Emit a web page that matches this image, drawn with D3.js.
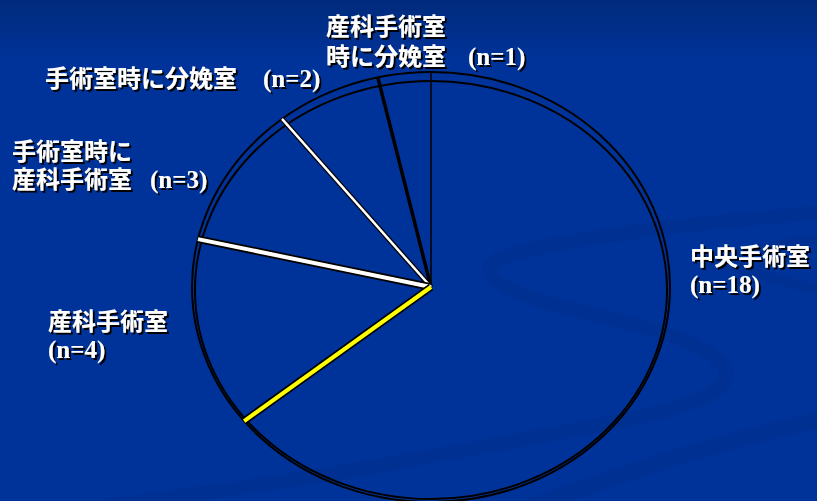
<!DOCTYPE html>
<html>
<head>
<meta charset="utf-8">
<script src="https://cdn.jsdelivr.net/npm/d3@7"></script>
<style>
  html, body { margin: 0; padding: 0; background: #003399; }
  svg { display: block; }
  .lbl { font-family: "Liberation Serif", "Noto Sans CJK JP", serif; font-size: 24px; font-weight: bold; }
  .lbl .n { font-size: 25px; }
</style>
</head>
<body>
<div id="vis"></div>
<script>
// slices, counter-clockwise from 12 o'clock
var categories = ['産科手術室時に分娩室', '手術室時に分娩室', '手術室時に産科手術室', '産科手術室', '中央手術室'];
var counts = [1, 2, 3, 4, 18];
// label text lines (the last line gets the "(n=..)" part appended)
var labelLines = [
    ['産科手術室', '時に分娩室'],
    ['手術室時に分娩室'],
    ['手術室時に', '産科手術室'],
    ['産科手術室', ''],
    ['中央手術室', '']
];

var width = 817, height = 501;
var cx = 431, cy = 287, rx = 239, ry = 215;

var svg = d3.select('#vis')
            .append('svg')
            .attr('width', width)
            .attr('height', height);

// background
var defs = svg.append('defs');
var grad = defs.append('linearGradient')
               .attr('id', 'bg')
               .attr('x1', 0).attr('y1', 0).attr('x2', 0).attr('y2', 1);
grad.append('stop').attr('offset', '0%').attr('stop-color', '#002a7c');
grad.append('stop').attr('offset', '12%').attr('stop-color', '#003399');
grad.append('stop').attr('offset', '100%').attr('stop-color', '#003399');

var shadow = defs.append('filter')
                 .attr('id', 'shadow')
                 .attr('x', '-10%').attr('y', '-20%')
                 .attr('width', '130%').attr('height', '150%');
shadow.append('feDropShadow')
      .attr('dx', 2).attr('dy', 2)
      .attr('stdDeviation', 0.3)
      .attr('flood-color', '#000')
      .attr('flood-opacity', 1);

svg.append('rect').attr('width', width).attr('height', height).attr('fill', 'url(#bg)');

// faint swooshes
var swoosh = svg.append('g')
                .attr('fill', 'none')
                .attr('stroke', '#002c88')
                .attr('stroke-opacity', 0.45)
                .attr('stroke-linecap', 'round');
swoosh.append('path')
      .attr('d', 'M830,212 C700,222 560,238 500,258 C465,278 520,298 600,316 C680,334 735,355 725,382 C700,412 600,425 420,458 C300,482 150,500 0,520')
      .attr('stroke-width', 14);
swoosh.append('path')
      .attr('d', 'M830,418 C720,440 640,468 520,510')
      .attr('stroke-width', 16);
swoosh.append('path')
      .attr('d', 'M830,238 C780,244 740,252 722,262 C760,276 800,286 830,292')
      .attr('stroke-width', 10);

// pie angles
var pie = d3.pie()
            .sort(null)
            .value((d) => d)
            .startAngle(0)
            .endAngle(-2 * Math.PI);
var arcs = pie(counts);

var px = (a) => cx + rx * Math.sin(a);
var py = (a) => cy - ry * Math.cos(a);

// ellipse outlines
svg.append('ellipse')
   .attr('cx', cx).attr('cy', cy + 3)
   .attr('rx', rx - 3).attr('ry', ry - 6)
   .attr('fill', 'none').attr('stroke', '#000').attr('stroke-width', 2);
svg.append('ellipse')
   .attr('cx', cx).attr('cy', cy)
   .attr('rx', rx).attr('ry', ry)
   .attr('fill', 'none').attr('stroke', '#000').attr('stroke-width', 2);

// slice edges
var edgeStyle = [
    {color: '#000', w: 1.5, outline: 0},
    {color: '#000', w: 3.5, outline: 0},
    {color: '#fff', w: 2.5, outline: 5},
    {color: '#fff', w: 4, outline: 7.5},
    {color: '#ffff00', w: 4, outline: 7.5}
];
var edges = svg.append('g');
arcs.forEach((d, i) => {
    var s = edgeStyle[i];
    var a = d.startAngle;
    if (s.outline) {
        edges.append('line')
             .attr('x1', cx).attr('y1', cy)
             .attr('x2', px(a)).attr('y2', py(a))
             .attr('stroke', '#000').attr('stroke-width', s.outline);
    }
    edges.append('line')
         .attr('x1', cx).attr('y1', cy)
         .attr('x2', px(a)).attr('y2', py(a))
         .attr('stroke', s.color).attr('stroke-width', s.w);
});

// labels
var labelPos = [
    {x: 326, y: 35, dy: 30, gap: 22},
    {x: 45, y: 87, dy: 28, gap: 26},
    {x: 12, y: 160, dy: 28, gap: 18},
    {x: 48, y: 330, dy: 28, gap: 0},
    {x: 690, y: 265, dy: 28, gap: 0}
];

var labels = svg.append('g')
                .attr('filter', 'url(#shadow)');
categories.forEach((c, i) => {
    var p = labelPos[i];
    var lines = labelLines[i];
    lines.forEach((line, j) => {
        var t = labels.append('text')
                      .attr('class', 'lbl')
                      .attr('x', p.x)
                      .attr('y', p.y + j * p.dy)
                      .attr('fill', '#fff');
        if (line) t.append('tspan').text(line);
        if (j === lines.length - 1) {
            t.append('tspan')
             .attr('class', 'n')
             .attr('dx', line ? p.gap : 0)
             .text(`(n=${counts[i]})`);
        }
    });
});
</script>
</body>
</html>
